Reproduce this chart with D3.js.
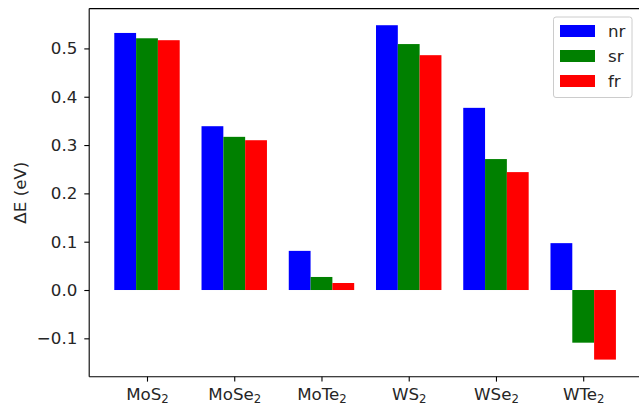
<!DOCTYPE html>
<html><head><meta charset="utf-8">
<script src="https://cdn.jsdelivr.net/npm/d3@7"></script>
<style>body{margin:0;background:#fff}svg{display:block}text{font-family:"DejaVu Sans",sans-serif;fill:#262626}</style>
</head><body><svg id="c" width="639" height="408"></svg>
<script>
const categories = ["MoS", "MoSe", "MoTe", "WS", "WSe", "WTe"];
const seriesNames = ["nr", "sr", "fr"];
const colors = ["#0000ff", "#008000", "#ff0000"];
const nr = [0.532, 0.339, 0.081, 0.548, 0.377, 0.097];
const sr = [0.521, 0.317, 0.027, 0.509, 0.271, -0.109];
const fr = [0.517, 0.310, 0.0145, 0.486, 0.244, -0.144];
const yTicks = [-0.1, 0.0, 0.1, 0.2, 0.3, 0.4, 0.5];
const series = [nr, sr, fr];

const FS = "16.7px";
const svg = d3.select("#c");
const L = 89.2, R = 641, T = 8.6, B = 376.7;
const x = d3.scaleLinear().domain([-0.6625, 5.6625]).range([L, R]);
const y = d3.scaleLinear().domain([-0.1794, 0.5824]).range([B, T]);
const w = 0.25;

series.forEach((vals, s) => {
  svg.append("g").selectAll("rect").data(vals).enter().append("rect")
    .attr("x", (d, i) => x(i + (s - 1) * w - w / 2))
    .attr("width", x(w) - x(0))
    .attr("y", d => y(Math.max(0, d)))
    .attr("height", d => Math.abs(y(d) - y(0)))
    .attr("fill", colors[s]);
});

// spines
const sp = svg.append("g").attr("stroke", "#000").attr("stroke-width", 1.1).attr("fill", "none");
sp.append("line").attr("x1", L).attr("x2", L).attr("y1", T).attr("y2", B);
sp.append("line").attr("x1", L).attr("x2", R).attr("y1", B).attr("y2", B);
sp.append("line").attr("x1", L).attr("x2", R).attr("y1", T).attr("y2", T);

// y axis
const ya = svg.append("g").attr("transform", `translate(${L},0)`)
  .call(d3.axisLeft(y).tickValues(yTicks).tickSize(4.9).tickPadding(7)
    .tickFormat(d => (d < 0 ? "\u2212" : "") + Math.abs(d).toFixed(1)));
ya.select(".domain").remove();
ya.selectAll("line").attr("stroke", "#000").attr("stroke-width", 1.1);
ya.selectAll("text").attr("font-size", FS).attr("font-family", "DejaVu Sans").attr("fill", "#262626");

// x axis
const xa = svg.append("g").attr("transform", `translate(0,${B})`)
  .call(d3.axisBottom(x).tickValues(d3.range(categories.length)).tickSize(4.9).tickPadding(4.9).tickFormat(""));
xa.select(".domain").remove();
xa.selectAll("line").attr("stroke", "#000").attr("stroke-width", 1.1);
xa.selectAll(".tick").each(function(d) {
  const t = d3.select(this).append("text").attr("y", 23.5).attr("text-anchor", "middle")
    .attr("font-size", FS).attr("fill", "#262626");
  t.append("tspan").text(categories[d]);
  t.append("tspan").attr("font-size", "11.7px").attr("dy", "3").text("2");
});

// y label
svg.append("text").attr("transform", `translate(25.5,${(T + B) / 2}) rotate(-90)`)
  .attr("text-anchor", "middle").attr("font-size", FS).text("\u0394E (eV)");

// legend
const lg = svg.append("g");
lg.append("rect").attr("x", 553.5).attr("y", 17).attr("width", 78.5).attr("height", 80.5)
  .attr("rx", 2.5).attr("fill", "#fff").attr("fill-opacity", 0.8).attr("stroke", "#cccccc").attr("stroke-width", 1);
seriesNames.forEach((n, i) => {
  const cy = 31 + i * 25;
  lg.append("rect").attr("x", 560).attr("y", cy - 6).attr("width", 35).attr("height", 12).attr("fill", colors[i]);
  lg.append("text").attr("x", 608).attr("y", cy + 6).attr("font-size", FS).text(n);
});
</script></body></html>
